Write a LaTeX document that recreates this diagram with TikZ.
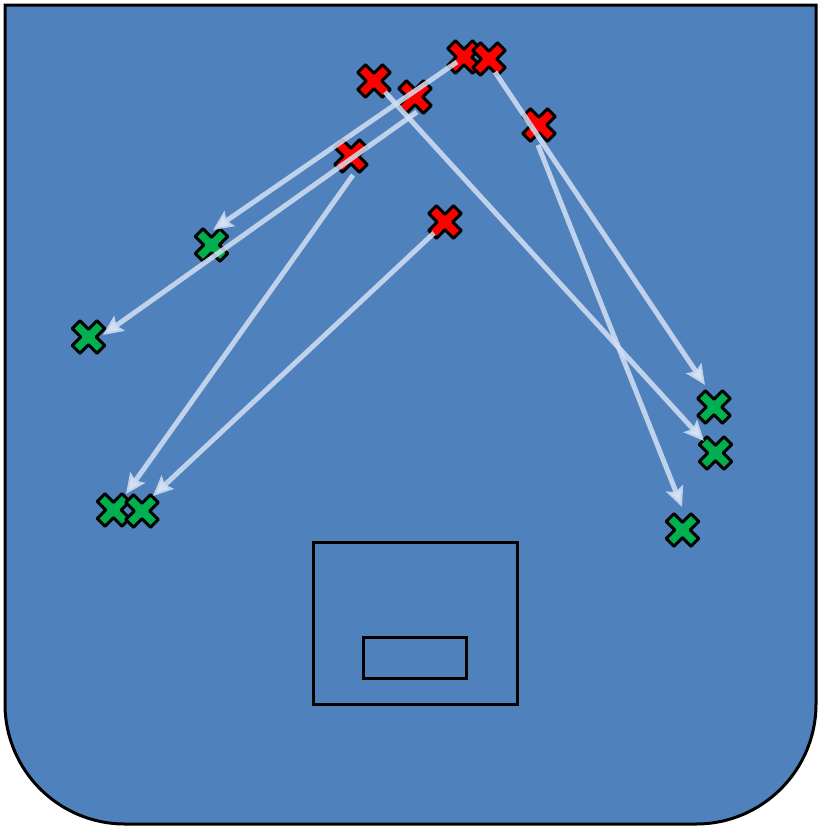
\documentclass[tikz,border=0pt]{standalone}
\usetikzlibrary{arrows.meta}
\definecolor{rinkblue}{RGB}{79,129,189}
\definecolor{xred}{RGB}{255,0,0}
\definecolor{xgreen}{RGB}{0,176,80}
\definecolor{pathc}{RGB}{212,225,244}
\tikzset{
  rink/.style={fill=rinkblue, draw=black, line width=3pt},
  goalbox/.style={draw=black, line width=3pt},
  xmark/.pic={
    \draw[pic actions, line width=3pt, line join=round, rotate=45]
      (5.5,5.5) -- (17.5,5.5) -- (17.5,-5.5) -- (5.5,-5.5) -- (5.5,-17.5) -- (-5.5,-17.5) -- (-5.5,-5.5)
      -- (-17.5,-5.5) -- (-17.5,5.5) -- (-5.5,5.5) -- (-5.5,17.5) -- (5.5,17.5) -- cycle;
  },
  redx/.style={fill=xred, draw=black},
  greenx/.style={fill=xgreen, draw=black},
  move/.style={draw=pathc, draw opacity=0.85, line width=5pt,
    -{Stealth[length=20pt,width=18pt,inset=3.5pt,fill=pathc]}},
}
\begin{document}
\begin{tikzpicture}[x=1pt,y=-1pt]
\useasboundingbox (0,0) rectangle (818,827);
% rink
\draw[rink] (5,5) -- (816,5) -- (816,704)
  .. controls (816,770.3) and (762.3,824) .. (696,824)
  -- (125,824)
  .. controls (58.7,824) and (5,770.3) .. (5,704) -- cycle;
% goal area
\draw[goalbox] (313,542) rectangle (517,704);
\draw[goalbox] (363.5,637) rectangle (466,678);
% cross positions
\coordinate (R1) at (464,57);
\coordinate (R2) at (489,59);
\coordinate (R3) at (374,81);
\coordinate (R4) at (415,97);
\coordinate (R5) at (539,125);
\coordinate (R6) at (351,156);
\coordinate (R7) at (445,222);
\coordinate (G1) at (211.5,245);
\coordinate (G2) at (88.5,337);
\coordinate (G3) at (113.5,510);
\coordinate (G4) at (142,511);
\coordinate (G5) at (714,407);
\coordinate (G6) at (715.5,453);
\coordinate (G7) at (682.5,530);
% crosses
\foreach \p in {R1,R2,R3,R4,R5,R6,R7} \pic[redx] at (\p) {xmark};
\foreach \p in {G1,G2,G3,G4,G5,G6,G7} \pic[greenx] at (\p) {xmark};
% arrow end points
\coordinate (s1) at (457,62);   \coordinate (e1) at (213,230);
\coordinate (s2) at (417,112);  \coordinate (e2) at (103,335);
\coordinate (s3) at (385,92);   \coordinate (e3) at (704,441);
\coordinate (s4) at (495,72);   \coordinate (e4) at (705,385);
\coordinate (s5) at (538,145);  \coordinate (e5) at (682,507);
\coordinate (s6) at (353,175);  \coordinate (e6) at (126,494);
\coordinate (s7) at (434,233);  \coordinate (e7) at (153,496);
% moves
\draw[move] (s1) -- (e1);
\draw[move] (s2) -- (e2);
\draw[move] (s3) -- (e3);
\draw[move] (s4) -- (e4);
\draw[move] (s5) -- (e5);
\draw[move] (s6) -- (e6);
\draw[move] (s7) -- (e7);
\end{tikzpicture}
\end{document}
